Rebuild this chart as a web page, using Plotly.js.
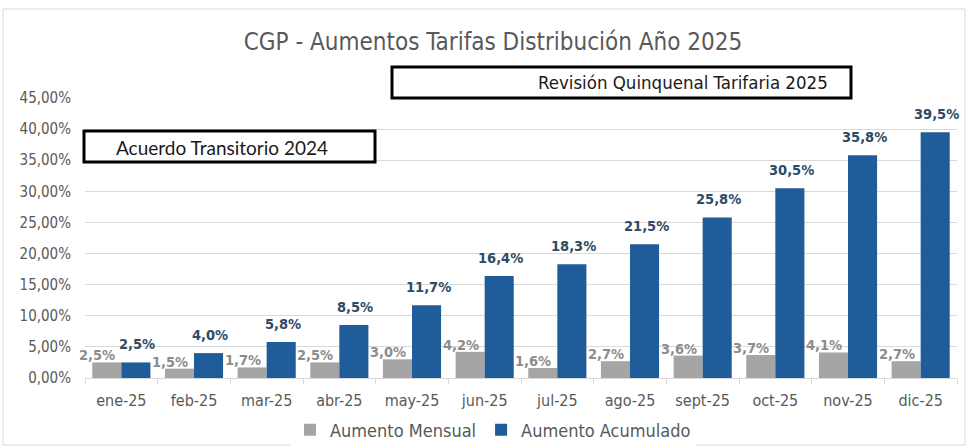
<!DOCTYPE html>
<html>
<head>
<meta charset="utf-8">
<script src="https://cdn.plot.ly/plotly-3.0.1.min.js"></script>
<style>html,body{margin:0;padding:0;background:#fff;overflow:hidden;}#chart{width:969px;height:448px;}</style>
</head>
<body>
<div id="chart"></div>
<script>
const categories = ["ene-25","feb-25","mar-25","abr-25","may-25","jun-25","jul-25","ago-25","sept-25","oct-25","nov-25","dic-25"];
const mensual = [2.5,1.5,1.7,2.5,3.0,4.2,1.6,2.7,3.6,3.7,4.1,2.7];
const acumulado = [2.5,4.0,5.8,8.5,11.7,16.4,18.3,21.5,25.8,30.5,35.8,39.5];
const yTicks = [0,5,10,15,20,25,30,35,40,45];
const seriesNames = ["Aumento Mensual","Aumento Acumulado"];
const boxTexts = ["Revisión Quinquenal Tarifaria 2025","Acuerdo Transitorio 2024"];

const fmt = v => v.toFixed(1).replace(".", ",") + "%";
const narrow = "DejaVu Sans Condensed, Liberation Sans Narrow, sans-serif";

const W = 969, H = 448, L = 85, R = 12, T = 98, B = 70;
const PW = W - L - R, PH = H - T - B;
const px = x => (x - L) / PW;
const py = y => (H - B - y) / PH;

const traces = [
  {type:"bar", name:seriesNames[0], x:categories, y:mensual.map(v=>v/100),
   marker:{color:"#A5A5A5"}, hoverinfo:"skip"},
  {type:"bar", name:seriesNames[1], x:categories, y:acumulado.map(v=>v/100),
   marker:{color:"#1F5C99"}, hoverinfo:"skip"}
];

const annotations = [];
categories.forEach((c,i)=>{
  annotations.push({x:c, y:mensual[i]/100, xref:"x", yref:"y", text:fmt(mensual[i]),
    showarrow:false, yanchor:"bottom", xanchor:"center", xshift:-24, yshift:-3,
    font:{family:narrow, size:14.5, color:"#8C8C8C", weight:"bold"}});
  annotations.push({x:c, y:acumulado[i]/100, xref:"x", yref:"y", text:fmt(acumulado[i]),
    showarrow:false, yanchor:"bottom", xanchor:"center", xshift:16, yshift:8,
    font:{family:narrow, size:14.5, color:"#2E4B66", weight:"bold"}});
});
annotations.push({xref:"paper", yref:"paper", x:px(683), y:py(83), text:boxTexts[0], showarrow:false,
  xanchor:"center", yanchor:"middle", font:{family:narrow, size:18.5, color:"#1a1a1a"}});
annotations.push({xref:"paper", yref:"paper", x:px(222), y:py(147), text:boxTexts[1], showarrow:false,
  xanchor:"center", yanchor:"middle", font:{family:"Lato, Noto Sans, sans-serif", size:19, color:"#1a1a1a"}});

const layout = {
  width:W, height:H,
  margin:{l:L, r:R, t:T, b:B, autoexpand:false},
  paper_bgcolor:"#ffffff", plot_bgcolor:"#ffffff",
  separators:",.",
  title:{text:"CGP - Aumentos Tarifas Distribución Año 2025", x:493/W, xref:"container", xanchor:"center",
    y:1-42/H, yref:"container", yanchor:"middle", font:{family:narrow, size:24, color:"#595959"}},
  barmode:"group", bargap:0.2, bargroupgap:0,
  xaxis:{type:"category", range:[-0.5, 11.5], automargin:false, showgrid:false, showline:true, linecolor:"#D9D9D9", linewidth:1,
    ticks:"outside", tickson:"boundaries", ticklen:5, tickcolor:"#D9D9D9", ticklabelstandoff:8,
    tickfont:{family:narrow, size:16, color:"#595959"}, fixedrange:true},
  yaxis:{range:[0,0.45], automargin:false, tickvals:yTicks.map(v=>v/100), tickformat:".2%",
    showgrid:true, gridcolor:"#D9D9D9", gridwidth:1, zeroline:false, showline:false,
    tickfont:{family:narrow, size:15, color:"#595959"}, ticks:"", ticklabelstandoff:13, fixedrange:true},
  showlegend:true,
  legend:{orientation:"h", xref:"container", yref:"container", x:493/W, xanchor:"center", y:1-430/H, yanchor:"middle",
    font:{family:narrow, size:18, color:"#595959"}, traceorder:"normal"},
  annotations:annotations,
  shapes:[
    {type:"rect", xref:"paper", yref:"paper", x0:px(3), x1:px(965), y0:py(445), y1:py(9),
     line:{color:"#D9D9D9", width:1}, fillcolor:"rgba(0,0,0,0)", layer:"below"},
    {type:"rect", xref:"paper", yref:"paper", x0:px(392), x1:px(851), y0:py(98), y1:py(67),
     line:{color:"#000000", width:3}, fillcolor:"#ffffff", layer:"above"},
    {type:"rect", xref:"paper", yref:"paper", x0:px(84), x1:px(375), y0:py(162), y1:py(131),
     line:{color:"#000000", width:3}, fillcolor:"#ffffff", layer:"above"}
  ]
};

Plotly.newPlot("chart", traces, layout, {displayModeBar:false, staticPlot:true});
</script>
</body>
</html>
